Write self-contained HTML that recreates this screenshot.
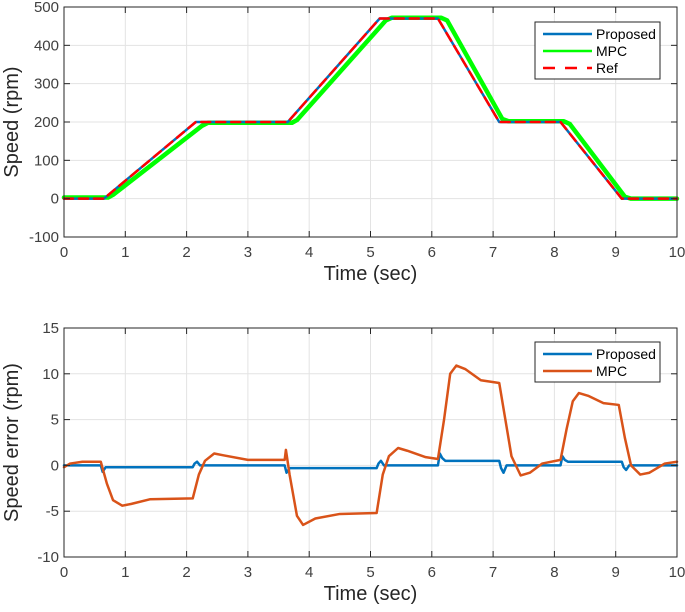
<!DOCTYPE html>
<html><head><meta charset="utf-8"><style>
html,body{margin:0;padding:0;background:#fff;}
svg{display:block;font-family:"Liberation Sans",Arial,sans-serif;}
</style></head><body>
<svg id="c" width="685" height="612" xmlns="http://www.w3.org/2000/svg"></svg>
<script>
// ---- data ----
const xTicks=[0,1,2,3,4,5,6,7,8,9,10];
const topYTicks=[-100,0,100,200,300,400,500];
const botYTicks=[-10,-5,0,5,10,15];
const refT=[0,0.65,2.15,3.65,5.15,6.1,7.1,8.1,9.1,10];
const refV=[0,0,200,200,470,470,200,200,0,0];
const propT=[0,0.65,2.15,3.65,5.15,6.1,7.1,8.1,9.1,10];
const propV=[0,0,200,200,470,470,200,200,0,0];
const mpcT=[0,0.72,0.8,2.25,2.35,3.72,3.8,5.25,5.35,6.15,6.25,7.15,7.25,8.15,8.25,9.15,9.25,10];
const mpcV=[3,3,10,190,198,198,205,465,472,472,465,208,202,202,195,5,0,0];
const errPropT=[0,0.6,0.63,0.68,2.1,2.13,2.17,2.22,3.6,3.63,3.68,5.1,5.13,5.17,5.22,6.1,6.13,6.17,6.22,7.1,7.13,7.17,7.22,8.1,8.13,8.17,8.22,9.1,9.13,9.17,9.22,10];
const errPropV=[0,0,-0.7,-0.2,-0.2,0.2,0.4,0,0,-0.8,-0.3,-0.3,0.2,0.5,0,0,1.3,0.8,0.5,0.5,-0.3,-0.8,0,0,1.0,0.6,0.4,0.4,-0.2,-0.5,0,0];
const errMpcT=[0,0.1,0.3,0.6,0.7,0.8,0.95,1.1,1.4,2.1,2.2,2.3,2.45,2.6,3,3.6,3.62,3.68,3.8,3.9,4.1,4.5,5.1,5.2,5.3,5.45,5.6,5.9,6.1,6.2,6.3,6.4,6.55,6.8,7.1,7.2,7.3,7.45,7.6,7.8,8.1,8.2,8.3,8.4,8.55,8.8,9.05,9.15,9.25,9.4,9.55,9.8,10];
const errMpcV=[-0.2,0.2,0.4,0.4,-2,-3.8,-4.4,-4.2,-3.7,-3.6,-1,0.5,1.3,1.1,0.6,0.6,1.7,-1,-5.5,-6.5,-5.8,-5.3,-5.2,-1,1,1.9,1.6,0.9,0.7,5,10,10.9,10.5,9.3,9.0,5,1,-1.1,-0.8,0.2,0.6,4,7,7.9,7.6,6.8,6.6,3,0,-1,-0.8,0.2,0.4];

const NS="http://www.w3.org/2000/svg";
const svg=document.getElementById('c');
function el(tag,attrs,parent){const e=document.createElementNS(NS,tag);for(const k in attrs)e.setAttribute(k,attrs[k]);(parent||svg).appendChild(e);return e;}

function axes(name,L,R,T,B,ymin,ymax,yTicks,yLabel,series,legend){
  const g=el('g',{});
  
  
  const sx=v=>L+(v-0)/(10-0)*(R-L);
  const sy=v=>B-(v-ymin)/(ymax-ymin)*(B-T);
  xTicks.forEach(t=>{const l=el('line',{x1:sx(t),x2:sx(t),y1:T,y2:B,stroke:'#e3e3e3','stroke-width':1},g);
    });
  yTicks.forEach(t=>{const l=el('line',{x1:L,x2:R,y1:sy(t),y2:sy(t),stroke:'#e3e3e3','stroke-width':1},g);
    });
  series.forEach(s=>{
    const d=s.t.map((t,i)=>(i?'L':'M')+sx(t).toFixed(2)+','+sy(s.v[i]).toFixed(2)).join(' ');
    const p=el('path',{d:d,fill:'none',stroke:s.color,'stroke-width':s.w,'stroke-linejoin':'round','stroke-linecap':'round'},g);
    if(s.dash)p.setAttribute('stroke-dasharray',s.dash);
    
    
  });
  const bx=el('rect',{x:L,y:T,width:R-L,height:B-T,fill:'none',stroke:'#262626','stroke-width':1},g);
  
  xTicks.forEach(t=>{
    el('line',{x1:sx(t),x2:sx(t),y1:B,y2:B-6,stroke:'#262626'},g);
    el('line',{x1:sx(t),x2:sx(t),y1:T,y2:T+6,stroke:'#262626'},g);
    const tx=el('text',{x:sx(t),y:B+20,'font-size':15,'text-anchor':'middle',fill:'#404040'},g);
    tx.textContent=t;
    
  });
  yTicks.forEach(t=>{
    el('line',{x1:L,x2:L+6,y1:sy(t),y2:sy(t),stroke:'#262626'},g);
    el('line',{x1:R,x2:R-6,y1:sy(t),y2:sy(t),stroke:'#262626'},g);
    const tx=el('text',{x:L-5,y:sy(t)+5,'font-size':15,'text-anchor':'end',fill:'#404040'},g);
    tx.textContent=t;
    
  });
  const xl=el('text',{x:(L+R)/2,y:B+43,'font-size':20,'text-anchor':'middle',fill:'#262626'},g);
  xl.textContent='Time (sec)';
  
  const yl=el('text',{x:0,y:0,'font-size':20,'text-anchor':'middle',fill:'#262626',transform:`translate(18,${(T+B)/2}) rotate(-90)`},g);
  yl.textContent=yLabel;
  
  const lg=el('g',{},g);
  
  const lh=legend.items.length*17+6;
  el('rect',{x:legend.x,y:legend.y,width:125,height:lh,fill:'#fff',stroke:'#262626','stroke-width':1},lg);
  legend.items.forEach((it,i)=>{
    const cy=legend.y+12+i*17;
    const ln=el('line',{x1:legend.x+8,x2:legend.x+57,y1:cy,y2:cy,stroke:it.color,'stroke-width':2.5},lg);
    if(it.dash)ln.setAttribute('stroke-dasharray',it.dash);
    const tx=el('text',{x:legend.x+61,y:cy+5,'font-size':14,fill:'#000'},lg);
    tx.textContent=it.label;
    
  });
}

axes('speed-plot',64,677,7,237,-100,500,topYTicks,'Speed (rpm)',[
  {name:'mpc-speed-line',t:mpcT,v:mpcV,color:'#00ff00',w:4.5},
  {name:'proposed-speed-line',t:propT,v:propV,color:'#0072bd',w:2.5},
  {name:'ref-speed-line',t:refT,v:refV,color:'#ff0000',w:2.5,dash:'9,6'}
],{x:535,y:22,items:[{label:'Proposed',color:'#0072bd'},{label:'MPC',color:'#00ff00'},{label:'Ref',color:'#ff0000',dash:'12,10'}]});

axes('error-plot',64,677,328,557,-10,15,botYTicks,'Speed error (rpm)',[
  {name:'proposed-error-line',t:errPropT,v:errPropV,color:'#0072bd',w:2.5},
  {name:'mpc-error-line',t:errMpcT,v:errMpcV,color:'#d95319',w:2.5}
],{x:535,y:342,items:[{label:'Proposed',color:'#0072bd'},{label:'MPC',color:'#d95319'}]});
</script>
</body></html>
